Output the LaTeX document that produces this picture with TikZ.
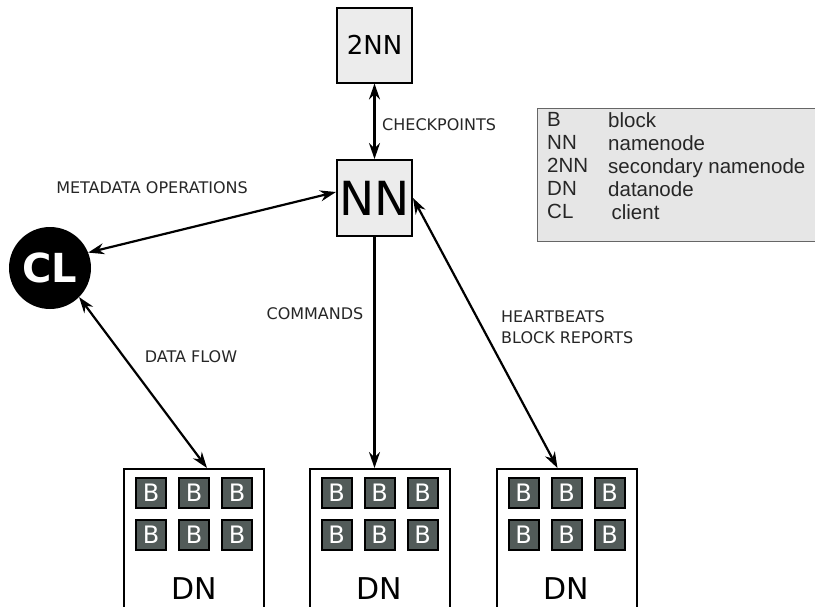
\documentclass[tikz,border=0pt]{standalone}
\usepackage{fontspec}
\setsansfont{DejaVu Sans}
\newfontfamily\legendfont{Liberation Sans}
\usetikzlibrary{arrows.meta, positioning}
\definecolor{boxgray}{RGB}{236,236,236}
\definecolor{legendgray}{RGB}{230,230,230}
\definecolor{blockgray}{RGB}{82,91,89}

\begin{document}
\begin{tikzpicture}[
    x=1pt, y=-1pt,
    nnbox/.style={rectangle, draw, line width=2pt, fill=boxgray, minimum width=75pt, minimum height=75pt, inner sep=0pt, font=\sffamily},
    dnbox/.style={rectangle, draw, line width=2pt, fill=white, minimum width=140pt, minimum height=180pt, anchor=north, inner sep=0pt},
    blk/.style={rectangle, draw, line width=2pt, fill=blockgray, minimum size=30pt, inner sep=0pt, text=white, font=\sffamily\fontsize{24}{24}\selectfont},
    lbl/.style={font=\sffamily\fontsize{16}{21}\selectfont, text=black!85, inner sep=0pt},
    arr/.style={-{Stealth[length=16pt, width=11pt]}, line width=2.2pt},
    darr/.style={{Stealth[length=16pt, width=11pt]}-{Stealth[length=16pt, width=11pt]}, line width=2.2pt},
]
    \clip (0,0) rectangle (815,606);

    % name nodes
    \node[nnbox, font=\sffamily\fontsize{26}{26}\selectfont] (nn2) at (374.5,45) {2NN};
    \node[nnbox, minimum height=76pt, font=\sffamily\fontsize{47}{47}\selectfont] (nn) at (374.5,198) {NN};
    \node[circle, fill=black, minimum size=82pt, inner sep=0pt, text=white, font=\sffamily\bfseries\fontsize{40}{40}\selectfont] (cl) at (50,268) {CL};

    % data nodes with blocks
    \node[dnbox] (dn1) at (194,468) {};
    \node[dnbox] (dn2) at (379.5,468) {};
    \node[dnbox] (dn3) at (566.5,468) {};
    \foreach \d in {dn1,dn2,dn3} {
        \foreach \i/\dx in {1/-43,2/0,3/43} {
            \foreach \j/\dy in {1/25,2/67} {
                \node[blk] (\d-b\i\j) at ([xshift=\dx pt, yshift=-\dy pt]\d.north) {B};
            }
        }
        \node[font=\sffamily\fontsize{30}{30}\selectfont, inner sep=0pt] (\d-txt) at ([yshift=-121pt]\d.north) {DN};
    }

    % legend
    \node[rectangle, draw=black!60, line width=1pt, fill=legendgray, minimum width=278pt, minimum height=133pt, anchor=north west] (legend) at (537,108) {};
    \node[anchor=north west, align=left, inner sep=0pt, font=\legendfont\fontsize{20.5}{23}\selectfont, text=black!85] (legkeys) at (547,112) {B\\NN\\2NN\\DN\\CL};
    \node[anchor=north west, align=left, inner sep=0pt, font=\legendfont\fontsize{20.5}{23}\selectfont, text=black!85] (legtext) at (608,112) {block\\namenode\\secondary namenode\\datanode\\\,client};

    % connectors
    \draw[darr] (nn2) -- (nn);
    \draw[darr] (cl.22) -- ([yshift=6pt]nn.west);
    \draw[darr] (cl.-45) -- ([xshift=13pt]dn1.north);
    \draw[arr] (nn.south) -- (nn.south |- dn2.north);
    \draw[darr] (nn.east) -- ([xshift=-9pt]dn3.north);

    % labels
    \node[lbl, anchor=west] (chk) at (382,125) {CHECKPOINTS};
    \node[lbl] (meta) at (152,188) {METADATA OPERATIONS};
    \node[lbl] (flow) at (191,357) {DATA FLOW};
    \node[lbl] (cmd) at (315,314) {COMMANDS};
    \node[lbl, anchor=west, align=left] (hb) at (501,327) {HEARTBEATS\\BLOCK REPORTS};
\end{tikzpicture}
\end{document}
